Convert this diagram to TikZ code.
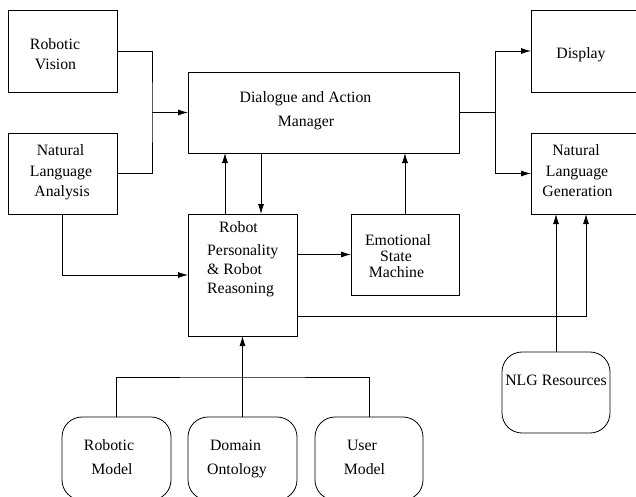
\documentclass[tikz,border=0pt]{standalone}
\usepackage{fontspec}
\setmainfont{Liberation Serif}
\newfontfamily\tmsfont{Liberation Serif}
\usetikzlibrary{arrows.meta}
\begin{document}
\begin{tikzpicture}[x=1pt,y=-1pt,
  box/.style={draw,line width=0.8pt,inner sep=0pt,outer sep=0pt},
  rbox/.style={box,rounded corners=20pt},
  lbl/.style={inner sep=0pt,anchor=base,font=\tmsfont\fontsize{15.8}{19}\selectfont},
  lbll/.style={lbl,anchor=base west},
  conn/.style={line width=0.8pt},
  arr/.style={conn,-{Latex[length=10pt,width=6pt]}}]
\useasboundingbox (0,0) rectangle (636,497);
\clip (0,0) rectangle (636,497);
% boxes
\node[box,minimum width=109pt,minimum height=82pt] (RV) at (62.5,51) {};
\node[box,minimum width=109pt,minimum height=81pt] (NLA) at (62.5,173.5) {};
\node[box,minimum width=271pt,minimum height=81pt] (DAM) at (323.5,112.5) {};
\node[box,minimum width=119pt,minimum height=82pt] (DISP) at (590.5,51) {};
\node[box,minimum width=119pt,minimum height=81pt] (NLG) at (590.5,173.5) {};
\node[box,minimum width=109pt,minimum height=122pt] (RP) at (242.5,275) {};
\node[box,minimum width=108pt,minimum height=81pt] (ESM) at (405,254.5) {};
\node[rbox,minimum width=108pt,minimum height=81pt] (NLGR) at (556,392.5) {};
\node[rbox,minimum width=109pt,minimum height=83pt] (RM) at (116.5,458.5) {};
\node[rbox,minimum width=109pt,minimum height=83pt] (DO) at (242.5,458.5) {};
\node[rbox,minimum width=108pt,minimum height=83pt] (UM) at (369,458.5) {};
% texts
\node[lbl] (rv1) at (55,50) {Robotic};
\node[lbl] (rv2) at (55.5,70) {Vision};
\node[lbl] (nla1) at (60.5,155) {Natural};
\node[lbl] (nla2) at (61,176) {Language};
\node[lbl] (nla3) at (62,196) {Analysis};
\node[lbl] (dam1) at (305.5,103) {Dialogue and Action};
\node[lbl] (dam2) at (306,127) {Manager};
\node[lbl] (disp1) at (581,59) {Display};
\node[lbl] (nlg1) at (576,155) {Natural};
\node[lbl] (nlg2) at (577,176) {Language};
\node[lbl] (nlg3) at (577.5,196) {Generation};
\node[lbll] (rp1) at (219,232) {Robot};
\node[lbll] (rp2) at (207,255.5) {Personality};
\node[lbll] (rp3) at (207,274) {\& Robot};
\node[lbll] (rp4) at (207,293) {Reasoning};
\node[lbl] (esm1) at (398,245) {Emotional};
\node[lbl] (esm2) at (396,261) {State};
\node[lbl] (esm3) at (396.5,277) {Machine};
\node[lbl] (nlgr1) at (556,385) {NLG Resources};
\node[lbl] (rm1) at (109,450) {Robotic};
\node[lbl] (rm2) at (112,474) {Model};
\node[lbl] (do1) at (235.5,450) {Domain};
\node[lbl] (do2) at (237,474) {Ontology};
\node[lbl] (um1) at (362,450) {User};
\node[lbl] (um2) at (364.5,474) {Model};
% junctions
\coordinate (j1) at (152,112.5);
\coordinate (j2) at (495,112.5);
\coordinate (j3) at (242.5,377);
% connectors
\draw[conn] (RV.east) -| (j1) |- (NLA.east);
\draw[arr] (j1) -- (DAM.west);
\draw[conn] (DAM.east) -- (j2);
\draw[arr] (j2) |- (DISP.west);
\draw[arr] (j2) |- (NLG.west);
\draw[arr] ([xshift=37pt]RP.north west) -- ([xshift=37pt]DAM.south west);
\draw[arr] ([xshift=73pt]DAM.south west) -- ([xshift=73pt]RP.north west);
\draw[arr] (ESM.north) -- (ESM.north |- DAM.south);
\draw[arr] (NLA.south) |- (RP.west);
\draw[arr] (RP.east |- ESM.west) -- (ESM.west);
\draw[arr] ([yshift=20pt]RP.south east) -| ([xshift=55pt]NLG.south west);
\draw[arr] (NLGR.north) -- (NLGR.north |- NLG.south);
\draw[conn] (RM.north) |- (j3) -| (UM.north);
\draw[arr] (DO.north) -- (RP.south);
\end{tikzpicture}
\end{document}
